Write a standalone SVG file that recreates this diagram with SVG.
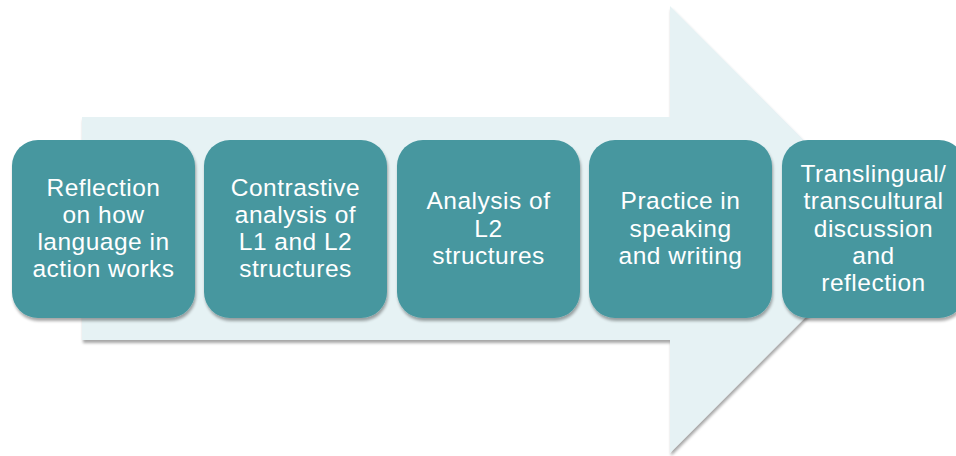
<svg xmlns="http://www.w3.org/2000/svg" width="956" height="456" viewBox="0 0 956 456">
<defs>
<filter id="sh" x="-10%" y="-10%" width="120%" height="125%">
<feGaussianBlur in="SourceAlpha" stdDeviation="1.5"/>
<feOffset dx="1" dy="2.5" result="o"/>
<feComponentTransfer><feFuncA type="linear" slope="0.35"/></feComponentTransfer>
<feMerge><feMergeNode/><feMergeNode in="SourceGraphic"/></feMerge>
</filter>
</defs>
<style>
.box{fill:#46979F;filter:url(#sh)}
.t{fill:#ffffff;font-family:"Liberation Sans",Arial,sans-serif;font-size:24.5px;letter-spacing:0.5px;text-anchor:middle}
</style>
<rect width="956" height="456" fill="#ffffff"/>
<g id="arrow">
<polygon points="82,117 670,117 670,6 893,229.5 670,453 670,340 82,340" fill="#E6F2F4" filter="url(#sh)"/>
</g>
<g id="connectors"></g>
<g id="n1">
<rect class="box" x="12" y="140" width="183" height="178" rx="26"/>
<text class="t"><tspan x="103.5" y="196">Reflection</tspan><tspan x="103.5" y="223">on how</tspan><tspan x="103.5" y="250">language in</tspan><tspan x="103.5" y="277">action works</tspan></text>
</g>
<g id="n2">
<rect class="box" x="204" y="140" width="183" height="178" rx="26"/>
<text class="t"><tspan x="295.5" y="196">Contrastive</tspan><tspan x="295.5" y="223">analysis of</tspan><tspan x="295.5" y="250">L1 and L2</tspan><tspan x="295.5" y="277">structures</tspan></text>
</g>
<g id="n3">
<rect class="box" x="397" y="140" width="183" height="178" rx="26"/>
<text class="t"><tspan x="488.5" y="209">Analysis of</tspan><tspan x="488.5" y="236.5">L2</tspan><tspan x="488.5" y="264">structures</tspan></text>
</g>
<g id="n4">
<rect class="box" x="589" y="140" width="183" height="178" rx="26"/>
<text class="t"><tspan x="680.5" y="209">Practice in</tspan><tspan x="680.5" y="236.5">speaking</tspan><tspan x="680.5" y="264">and writing</tspan></text>
</g>
<g id="n5">
<rect class="box" x="782" y="140" width="183" height="178" rx="26"/>
<text class="t"><tspan x="873.5" y="182">Translingual/</tspan><tspan x="873.5" y="209">transcultural</tspan><tspan x="873.5" y="236.5">discussion</tspan><tspan x="873.5" y="264">and</tspan><tspan x="873.5" y="291">reflection</tspan></text>
</g>
</svg>
